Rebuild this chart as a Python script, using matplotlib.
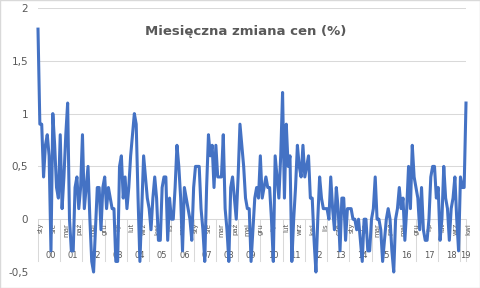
import matplotlib.pyplot as plt
from matplotlib.patches import Rectangle

# miesiące (etykiety osi) i lata
months = ["sty", "lut", "mar", "kwi", "maj", "cze", "lip", "sie", "wrz", "paź", "lis", "gru"]
years = ["00", "01", "02", "03", "04", "05", "06", "07", "08", "09",
         "10", "11", "12", "13", "14", "15", "16", "17", "18", "19"]

# miesięczna zmiana cen (%), sty 2000 - kwi 2019
y2000 = [1.8, 0.9, 0.9, 0.4, 0.7, 0.8, 0.6, -0.3, 1.0, 0.7, 0.3, 0.2]
y2001 = [0.8, 0.1, 0.4, 0.8, 1.1, 0.0, -0.3, -0.3, 0.3, 0.4, 0.1, 0.3]
y2002 = [0.8, 0.1, 0.3, 0.5, 0.0, -0.4, -0.5, -0.1, 0.3, 0.3, -0.1, 0.3]
y2003 = [0.4, 0.1, 0.3, 0.2, 0.1, 0.1, -0.4, -0.4, 0.5, 0.6, 0.2, 0.4]
y2004 = [0.1, 0.3, 0.6, 0.8, 1.0, 0.9, 0.2, -0.4, 0.1, 0.6, 0.4, 0.2]
y2005 = [0.1, -0.1, 0.2, 0.4, 0.2, -0.2, -0.2, 0.3, 0.4, 0.4, -0.2, 0.2]
y2006 = [0.0, 0.0, 0.3, 0.7, 0.5, 0.2, -0.3, 0.3, 0.2, 0.1, 0.0, -0.2]
y2007 = [0.3, 0.5, 0.5, 0.5, 0.1, -0.1, -0.4, 0.3, 0.8, 0.6, 0.7, 0.3]
y2008 = [0.7, 0.4, 0.4, 0.4, 0.8, 0.1, -0.1, -0.4, 0.3, 0.4, 0.2, 0.0]
y2009 = [0.4, 0.9, 0.7, 0.5, 0.2, 0.1, 0.1, -0.4, -0.1, 0.2, 0.3, 0.2]
y2010 = [0.6, 0.2, 0.3, 0.4, 0.3, 0.3, 0.0, -0.4, 0.6, 0.4, 0.2, 0.6]
y2011 = [1.2, 0.2, 0.9, 0.5, 0.6, -0.4, 0.0, 0.3, 0.7, 0.5, 0.4, 0.7]
y2012 = [0.4, 0.5, 0.6, 0.2, 0.2, -0.2, -0.5, 0.0, 0.4, 0.2, 0.1, 0.1]
y2013 = [0.1, 0.0, 0.4, 0.1, -0.1, 0.3, 0.1, -0.3, 0.2, 0.2, -0.2, 0.1]
y2014 = [0.1, 0.1, 0.0, 0.0, -0.1, 0.0, -0.2, -0.4, 0.0, 0.0, -0.3, -0.3]
y2015 = [0.0, 0.1, 0.4, 0.0, 0.0, -0.1, -0.4, -0.2, 0.0, 0.1, 0.0, -0.3]
y2016 = [-0.5, 0.0, 0.1, 0.3, 0.1, 0.2, -0.2, 0.1, 0.5, 0.1, 0.7, 0.4]
y2017 = [0.3, 0.2, -0.1, 0.3, -0.1, -0.2, -0.2, 0.0, 0.4, 0.5, 0.5, 0.2]
y2018 = [0.3, -0.2, 0.0, 0.5, 0.2, 0.1, -0.2, 0.1, 0.2, 0.4, 0.0, -0.3]
y2019 = [0.4, 0.3, 0.3, 1.1]

zmiana = (y2000 + y2001 + y2002 + y2003 + y2004 + y2005 + y2006 + y2007 + y2008
          + y2009 + y2010 + y2011 + y2012 + y2013 + y2014 + y2015 + y2016 + y2017
          + y2018 + y2019)
n = len(zmiana)

grey = "#595959"
fig = plt.figure(figsize=(4.8, 2.88), dpi=100)
ax = fig.add_axes([38/480, 16/288, 428/480, 264/288])

ax.plot(range(n), zmiana, color="#4472C4", lw=2.2, zorder=5, clip_on=False,
        solid_joinstyle="round")

ax.set_xlim(0, n - 1)
ax.set_ylim(-0.5, 2)
yt = [-0.5, 0, 0.5, 1, 1.5, 2]
ax.set_yticks(yt)
ax.set_yticklabels([("%g" % v).replace(".", ",") for v in yt])
ax.set_xticks([])
ax.tick_params(axis="y", length=0, pad=7, labelsize=7.5, colors=grey)
ax.grid(axis="y", color="#D9D9D9", lw=0.75)
ax.set_axisbelow(True)
for s in ax.spines.values():
    s.set_visible(False)

# etykiety kategorii: miesiące co 7 i lata
for i in range(0, n, 7):
    ax.text(i + 1.2, -0.035, months[i % 12], rotation=90, ha="center", va="top",
            fontsize=5, color=grey, zorder=3)
for k, yr in enumerate(years):
    start = 12 * k
    end = min(start + 12, n - 1)
    ax.plot([start, start], [0, -0.4], color="#D9D9D9", lw=0.75, zorder=2, clip_on=False)
    ax.text((start + end) / 2 + 1, -0.34, yr, ha="center", va="center",
            fontsize=6, color=grey, zorder=3)
ax.plot([n - 1, n - 1], [0, -0.4], color="#D9D9D9", lw=0.75, zorder=2, clip_on=False)

fig.text(0.512, 1 - 32/288, "Miesięczna zmiana cen (%)", ha="center", va="center",
         fontsize=9.5, fontweight="bold", color=grey)
fig.patches.append(Rectangle((0, 0), 1, 1, transform=fig.transFigure, fill=False,
                             edgecolor="#D9D9D9", lw=1))

fig.savefig("out.png", dpi=100)
